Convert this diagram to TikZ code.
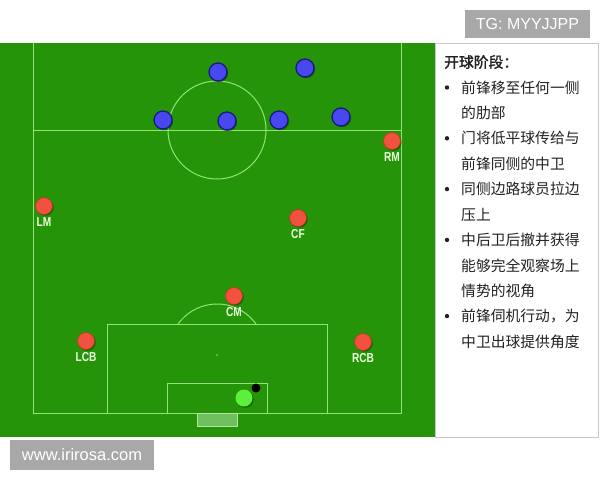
\documentclass[tikz,border=0pt]{standalone}
\usepackage{fontspec}
\usepackage{graphicx}
\setmainfont{Liberation Sans}
\newfontfamily\cjk{Noto Sans CJK SC}
\newfontfamily\cjkbold[FakeBold=1.6]{Noto Sans CJK SC}
\newfontfamily\lblfam{Liberation Sans}
\usetikzlibrary{shadows}
\definecolor{pitch}{RGB}{37,148,8}
\definecolor{pitchline}{RGB}{145,228,120}
\definecolor{redfill}{RGB}{240,82,62}
\definecolor{redrim}{RGB}{200,50,35}
\definecolor{bluefill}{RGB}{72,72,238}
\definecolor{bluerim}{RGB}{25,25,130}
\definecolor{gkfill}{RGB}{92,240,60}
\definecolor{lblcol}{RGB}{235,255,225}
\definecolor{goalfill}{RGB}{112,192,96}
\definecolor{goalline}{RGB}{175,232,155}
\definecolor{txtcol}{RGB}{34,34,34}
\definecolor{wmgray}{RGB}{168,168,168}
\definecolor{panelrim}{RGB}{200,200,200}
\begin{document}
\begin{tikzpicture}[x=1pt,y=-1pt,
  pline/.style={draw=pitchline, line width=1pt},
  shad/.style={drop shadow={shadow xshift=1.2pt, shadow yshift=-1.2pt, opacity=0.35, fill=black}},
  redp/.style={circle, fill=redfill, draw=redrim, line width=0.6pt, minimum size=17pt, inner sep=0pt, shad},
  bluep/.style={circle, fill=bluefill, draw=bluerim, line width=1.3pt, minimum size=18pt, inner sep=0pt, shad},
  gkp/.style={circle, fill=gkfill, minimum size=17pt, inner sep=0pt, shad},
  ballp/.style={circle, fill=black, minimum size=9pt, inner sep=0pt},
  poslbl/.style={text=lblcol, font=\lblfam\bfseries\fontsize{13}{13}\selectfont, inner sep=0pt},
  txtline/.style={anchor=west, font=\cjk\fontsize{14.8}{16}\selectfont, text=txtcol, inner sep=0pt},
  titleline/.style={anchor=west, font=\cjkbold\fontsize{14.8}{16}\selectfont, text=txtcol, inner sep=0pt},
  wmbox/.style={fill=wmgray, text=white, inner sep=0pt, font=\fontsize{16}{16}\selectfont}
]
\useasboundingbox (0,0) rectangle (600,480);
\fill[white] (0,0) rectangle (600,480);
% pitch
\fill[pitch] (0,43) rectangle (435,437);
\draw[pline] (33,43) -- (33,413) -- (401,413) -- (401,43);
\draw[pline] (33,130) -- (401,130);
\draw[pline] (217,130) circle[radius=49];
\draw[pline] (107,413) -- (107,324) -- (327,324) -- (327,413);
\draw[pline] (256,324) arc[start angle=-35.7, end angle=-144.3, radius=48];
\fill[pitchline] (217,355) circle[radius=0.8];
\draw[pline] (167,413) -- (167,383) -- (267,383) -- (267,413);
\draw[draw=goalline, fill=goalfill, line width=0.8pt] (197,413) rectangle (237,426);
% panel
\draw[fill=white, draw=panelrim, line width=0.8pt] (435,43) rectangle (598,437);
% blue team
\node[bluep] (b1) at (218,72) {};
\node[bluep] (b2) at (305,68) {};
\node[bluep] (b3) at (163,120) {};
\node[bluep] (b4) at (227,121) {};
\node[bluep] (b5) at (279,120) {};
\node[bluep] (b6) at (341,117) {};
% red team
\node[redp] (rm) at (392,141) {};
\node[redp] (lm) at (44,206) {};
\node[redp] (cf) at (298,218) {};
\node[redp] (cm) at (234,296) {};
\node[redp] (lcb) at (86,341) {};
\node[redp] (rcb) at (363,342) {};
\node[poslbl] (rml) at ([yshift=-16pt]rm.center) {\scalebox{0.78}[1]{RM}};
\node[poslbl] (lml) at ([yshift=-16pt]lm.center) {\scalebox{0.78}[1]{LM}};
\node[poslbl] (cfl) at ([yshift=-16pt]cf.center) {\scalebox{0.78}[1]{CF}};
\node[poslbl] (cml) at ([yshift=-16pt]cm.center) {\scalebox{0.78}[1]{CM}};
\node[poslbl] (lcbl) at ([yshift=-16pt]lcb.center) {\scalebox{0.78}[1]{LCB}};
\node[poslbl] (rcbl) at ([yshift=-16pt]rcb.center) {\scalebox{0.78}[1]{RCB}};
% goalkeeper and ball
\node[gkp] (gk) at (244,398) {};
\node[ballp] (ball) at (256,388) {};
% text panel
\node[titleline] (title) at (444,62) {开球阶段：};
\foreach \y in {87.5,138.3,189.1,239.9,316.1}{\fill[txtcol] (447,\y) circle[radius=2.2];}
\node[txtline] (t1) at (461,87.5) {前锋移至任何一侧};
\node[txtline] (t2) at (461,112.9) {的肋部};
\node[txtline] (t3) at (461,138.3) {门将低平球传给与};
\node[txtline] (t4) at (461,163.7) {前锋同侧的中卫};
\node[txtline] (t5) at (461,189.1) {同侧边路球员拉边};
\node[txtline] (t6) at (461,214.5) {压上};
\node[txtline] (t7) at (461,239.9) {中后卫后撤并获得};
\node[txtline] (t8) at (461,265.3) {能够完全观察场上};
\node[txtline] (t9) at (461,290.7) {情势的视角};
\node[txtline] (t10) at (461,316.1) {前锋伺机行动，为};
\node[txtline] (t11) at (461,341.5) {中卫出球提供角度};
% watermarks
\node[wmbox, minimum width=125pt, minimum height=28pt] (tg) at (527.5,24) {TG: MYYJJPP};
\node[wmbox, minimum width=144pt, minimum height=30pt, font=\fontsize{16.5}{16.5}\selectfont] (www) at (82,455) {www.irirosa.com};
\end{tikzpicture}
\end{document}
